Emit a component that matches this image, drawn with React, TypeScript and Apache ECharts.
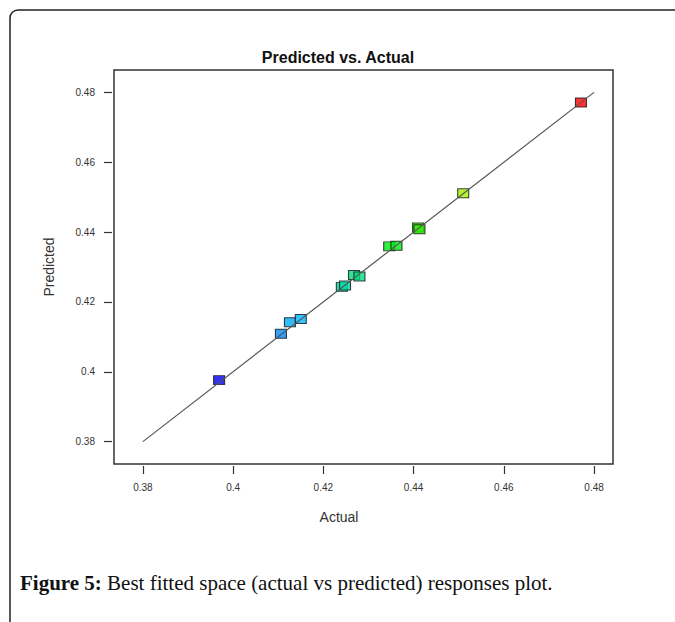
import React, { useEffect, useRef } from "react";
import * as echarts from "echarts";

const actual = [0.3969, 0.4106, 0.4126, 0.415, 0.4241, 0.4248, 0.4268, 0.428, 0.4346, 0.4362, 0.441, 0.4413, 0.451, 0.4771];
const predicted = [0.3976, 0.4109, 0.4142, 0.4151, 0.4243, 0.4247, 0.4277, 0.4273, 0.4359, 0.4361, 0.4413, 0.4408, 0.4511, 0.4771];
const tickValues = [0.38, 0.4, 0.42, 0.44, 0.46, 0.48];
const fitLine = [
  [0.38, 0.38],
  [0.48, 0.48],
];
const titleText = "Predicted vs. Actual";
const xName = "Actual";
const yName = "Predicted";
const captionBold = "Figure 5:";
const captionText = " Best fitted space (actual vs predicted) responses plot.";

export default function App() {
  const ref = useRef<HTMLDivElement>(null);
  useEffect(() => {
    if (!ref.current) return;
    const chart = echarts.init(ref.current, null, { renderer: "svg" });
    const points = actual.map((a, i) => [a, predicted[i]]);
    const axisCommon = {
      type: "value" as const,
      min: 0.3736,
      axisLine: { show: false },
      splitLine: { show: false },
      axisTick: {
        show: true,
        length: 8,
        customValues: tickValues,
        lineStyle: { color: "#333", width: 1.2 },
      },
      axisLabel: {
        customValues: tickValues,
        fontFamily: "Liberation Sans",
        fontSize: 10,
        color: "#333",
      },
    };
    chart.setOption({
      animation: false,
      backgroundColor: "#fff",
      graphic: [
        {
          type: "rect",
          shape: { x: 10, y: 10, width: 900, height: 900, r: 8 },
          style: { fill: "none", stroke: "#222", lineWidth: 1.5 },
          silent: true,
          z: 10,
        },
        {
          type: "text",
          x: 338,
          y: 57,
          style: {
            text: titleText,
            fontFamily: "Liberation Sans",
            fontSize: 16,
            fontWeight: "bold",
            fill: "#111",
            align: "center",
            verticalAlign: "middle",
          },
          z: 10,
        },
        {
          type: "text",
          x: 339,
          y: 517,
          style: {
            text: xName,
            fontFamily: "Liberation Sans",
            fontSize: 14,
            fill: "#333",
            align: "center",
            verticalAlign: "middle",
          },
          z: 10,
        },
        {
          type: "text",
          x: 20,
          y: 583,
          style: {
            text: "{b|" + captionBold + "}" + captionText,
            fontFamily: "Liberation Serif",
            fontSize: 21,
            fill: "#111",
            verticalAlign: "middle",
            rich: {
              b: { fontFamily: "Liberation Serif", fontSize: 21, fontWeight: "bold", fill: "#111" },
            },
          },
          z: 10,
        },
      ],
      grid: {
        left: 114,
        top: 70,
        width: 499,
        height: 394,
        show: true,
        borderColor: "#333",
        borderWidth: 1.5,
        backgroundColor: "#fff",
      },
      xAxis: {
        ...axisCommon,
        max: 0.4842,
        offset: 2,
        axisLabel: { ...axisCommon.axisLabel, margin: 16 },
      },
      yAxis: {
        ...axisCommon,
        max: 0.4864,
        offset: 2,
        name: yName,
        nameLocation: "middle",
        nameGap: 56,
        nameTextStyle: { fontFamily: "Liberation Sans", fontSize: 14, color: "#333" },
        axisLabel: { ...axisCommon.axisLabel, margin: 17 },
      },
      visualMap: {
        show: false,
        type: "continuous",
        dimension: 1,
        seriesIndex: 0,
        min: Math.min(...predicted),
        max: Math.max(...predicted),
        inRange: { color: ["#0000ee", "#00ccff", "#00ee00", "#eeee00", "#ff0000"] },
      },
      series: [
        {
          type: "scatter",
          data: points,
          symbol: "rect",
          symbolSize: [11, 9],
          itemStyle: { borderColor: "#111", borderWidth: 1 },
          z: 2,
        },
        {
          type: "line",
          data: fitLine,
          showSymbol: false,
          symbol: "none",
          lineStyle: { color: "#555", width: 1.2 },
          z: 3,
        },
      ],
    });
    return () => chart.dispose();
  }, []);
  return (
    <div
      ref={ref}
      style={{ position: "fixed", left: 0, top: 0, width: 675, height: 622, background: "#fff" }}
    />
  );
}
